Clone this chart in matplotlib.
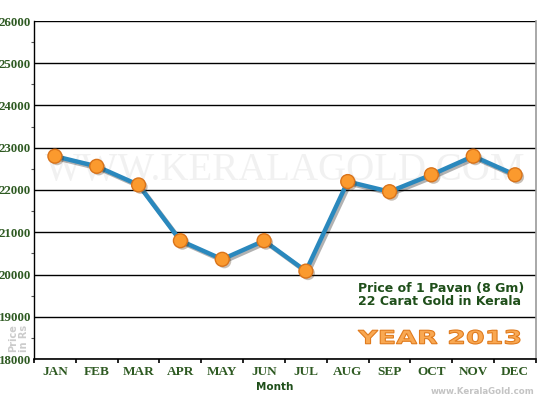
import numpy as np
import matplotlib.pyplot as plt
import matplotlib.patheffects as pe
from matplotlib.ticker import MultipleLocator, FixedLocator
from matplotlib.textpath import TextPath
from matplotlib.patches import PathPatch
from matplotlib.font_manager import FontProperties
from matplotlib.transforms import Affine2D

months = ["JAN", "FEB", "MAR", "APR", "MAY", "JUN",
          "JUL", "AUG", "SEP", "OCT", "NOV", "DEC"]
prices = [22800, 22560, 22120, 20800, 20360, 20800,
          20080, 22200, 21960, 22360, 22800, 22360]
y_ticks = [18000, 19000, 20000, 21000, 22000, 23000, 24000, 25000, 26000]

green = "#2e5a22"
fig = plt.figure(figsize=(5.5, 4), dpi=100)
ax = fig.add_axes([0.0618, 0.1025, 0.9127, 0.845])

x = np.arange(len(months))
shadow = [pe.SimpleLineShadow(offset=(1.5, -1.5), shadow_color="#000000", alpha=0.3), pe.Normal()]
ax.plot(x, prices, color="#2a88bd", lw=3.2, zorder=3, path_effects=shadow)
ax.plot(x, prices, "o", ms=10, mfc="#fb9a2e", mec="#d9731a", mew=1.0, zorder=4,
        path_effects=[pe.SimplePatchShadow(offset=(1.5, -1.5), alpha=0.3), pe.Normal()])

ax.set_xlim(-0.5, 11.5)
ax.set_ylim(18000, 26000)
ax.set_yticks(y_ticks)
ax.yaxis.set_minor_locator(MultipleLocator(500))
ax.grid(axis="y", color="black", lw=1.0, zorder=1)
ax.set_axisbelow(True)

ax.set_xticks(x)
ax.set_xticklabels(months, fontfamily="Liberation Serif", fontweight="bold",
                   fontsize=9.5, color=green)
ax.xaxis.set_minor_locator(FixedLocator(np.arange(-0.5, 12, 1)))
ax.tick_params(axis="x", which="major", length=0, pad=5)
ax.tick_params(axis="x", which="minor", length=3, width=1.2, color="black", direction="out")
ax.tick_params(axis="y", which="major", length=0, pad=2, labelsize=9.3, labelcolor=green)
ax.tick_params(axis="y", which="minor", length=2, width=0.8, color="#555555")
for lbl in ax.get_yticklabels():
    lbl.set_fontfamily("Liberation Serif")
    lbl.set_fontweight("bold")

ax.spines["top"].set_visible(False)
ax.spines["right"].set_color("#999999")
ax.spines["right"].set_linewidth(1.2)
ax.spines["left"].set_linewidth(1.0)
ax.spines["bottom"].set_linewidth(1.2)

# faint watermark
ax.text(5.5, 22470, "WWW.KERALAGOLD.COM", fontfamily="Liberation Serif", fontsize=28,
        color="#f1f1f1", ha="center", va="center", zorder=2)

ax.text(7.25, 19830, "Price of 1 Pavan (8 Gm)\n22 Carat Gold in Kerala",
        fontfamily="DejaVu Sans", fontweight="bold", fontsize=9, color="#1f4f1a",
        linespacing=1.0, va="top", ha="left", zorder=5)

# wide "YEAR 2013" drawn as a stretched text path, in pixels
tp = TextPath((0, 0), "YEAR 2013", size=1,
              prop=FontProperties(family="DejaVu Sans", weight="bold"))
ext = tp.get_extents()
sx = 162 / ext.width
sy = 14 / ext.height
tr = Affine2D().translate(-ext.x0, -ext.y0).scale(sx, sy).translate(358, 400 - 344)
fig.patches.append(PathPatch(tp, transform=tr, facecolor="#f9a852",
                             edgecolor="#e07a1c", lw=0.8, zorder=5))

fig.text(0.5, 0.033, "Month", fontfamily="DejaVu Sans", fontweight="bold",
         fontsize=7.5, color="#1f4f1a", ha="center", va="center")
fig.text(0.033, 0.155, "Price\nin Rs", fontfamily="DejaVu Sans", fontweight="bold",
         fontsize=7, color="#cccccc", rotation=90, ha="center", va="center",
         linespacing=1.1)
fig.text(0.971, 0.0225, "www.KeralaGold.com", fontfamily="DejaVu Sans", fontweight="bold",
         fontsize=6.2, color="#c4c4c4", ha="right", va="center")

fig.savefig("out.png", dpi=100)
